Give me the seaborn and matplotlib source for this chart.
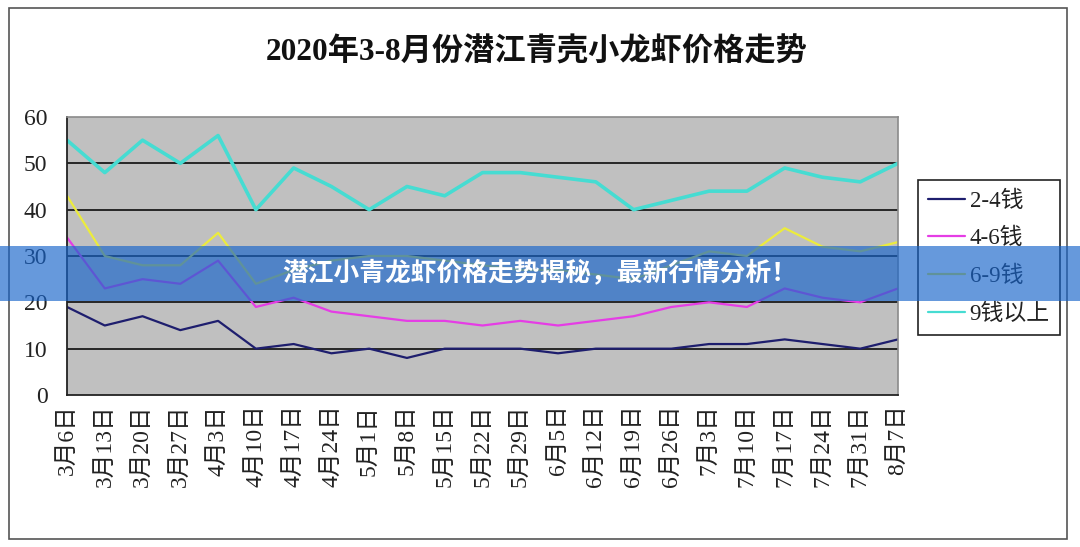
import matplotlib
matplotlib.use("Agg")
import matplotlib.pyplot as plt
import seaborn as sns
import pandas as pd
from matplotlib.patches import Rectangle

# ---- data ----
dates = ["3月6日", "3月13日", "3月20日", "3月27日", "4月3日", "4月10日", "4月17日",
         "4月24日", "5月1日", "5月8日", "5月15日", "5月22日", "5月29日", "6月5日",
         "6月12日", "6月19日", "6月26日", "7月3日", "7月10日", "7月17日", "7月24日",
         "7月31日", "8月7日"]
series_names = ["2-4钱", "4-6钱", "6-9钱", "9钱以上"]
s_2_4 = [19, 15, 17, 14, 16, 10, 11, 9, 10, 8, 10, 10, 10, 9, 10, 10, 10, 11, 11, 12, 11, 10, 12]
s_4_6 = [34, 23, 25, 24, 29, 19, 21, 18, 17, 16, 16, 15, 16, 15, 16, 17, 19, 20, 19, 23, 21, 20, 23]
s_6_9 = [43, 30, 28, 28, 35, 24, 27, 29, 30, 30, 29, 28, 27, 27, 26, 25, 28, 31, 30, 36, 32, 31, 33]
s_9up = [55, 48, 55, 50, 56, 40, 49, 45, 40, 45, 43, 48, 48, 47, 46, 40, 42, 44, 44, 49, 47, 46, 50]
yticks = [0, 10, 20, 30, 40, 50, 60]
title = "2020年3-8月份潜江青壳小龙虾价格走势"
banner = "潜江小青龙虾价格走势揭秘，最新行情分析！"

colors = ["#1E1E6E", "#E53DE5", "#ECEC3C", "#46DCD2"]
widths = [1.6, 1.6, 1.6, 2.6]

sns.set_style("white")
plt.rcParams["font.family"] = ["Liberation Serif", "Noto Sans CJK SC", "DejaVu Sans"]

rows = []
for name, vals in zip(series_names, [s_2_4, s_4_6, s_6_9, s_9up]):
    for i, v in enumerate(vals):
        rows.append({"pos": i, "price": v, "series": name})
df = pd.DataFrame(rows)

fig = plt.figure(figsize=(10.8, 5.47), dpi=100)
fig.patch.set_facecolor("white")
ax = fig.add_axes([67 / 1080, 1 - 395 / 547, (898 - 67) / 1080, (395 - 117) / 547])
ax.set_facecolor("#C0C0C0")

sns.lineplot(data=df, x="pos", y="price", hue="series", hue_order=series_names,
             palette=colors, ax=ax, legend=True, estimator=None, sort=False)
for line, w in zip(ax.get_lines(), widths):
    line.set_linewidth(w)
handles, labels = ax.get_legend_handles_labels()
ax.get_legend().remove()
for h in handles:
    h.set_linewidth(1.6)

ax.set_xlim(0, len(dates) - 1)
ax.set_ylim(0, 60)
ax.set_yticks(yticks)
ax.set_yticklabels([str(t) for t in yticks], fontsize=17, family="Liberation Serif", color="#222222")
ax.set_xticks(range(len(dates)))
ax.set_xticklabels(dates, rotation=90, fontsize=17,
                   family=["Liberation Serif", "Noto Sans CJK SC"], color="#222222")
ax.tick_params(axis="x", direction="in", length=6, width=1, color="#222222", pad=7)
ax.tick_params(axis="y", direction="out", length=5, width=1, color="#222222", pad=9)
ax.set_xlabel("")
ax.set_ylabel("")
for y in yticks[1:-1]:
    ax.axhline(y, color="#1A1A1A", lw=1.3, zorder=1)
ax.grid(False)
for s in ["left", "bottom"]:
    ax.spines[s].set_color("#222222")
    ax.spines[s].set_linewidth(1.3)
for s in ["top", "right"]:
    ax.spines[s].set_color("#8A8A8A")
    ax.spines[s].set_linewidth(1.2)

fig.text(0.497, 1 - 52 / 547, title, ha="center", va="center", fontsize=22.5,
         family=["Liberation Serif", "Noto Sans CJK SC"], fontweight="bold", color="#111111")

leg = fig.legend(handles, labels, loc="upper left",
                 bbox_to_anchor=(918 / 1080, 1 - 180 / 547), borderaxespad=0,
                 prop={"family": ["Liberation Serif", "Noto Sans CJK SC"], "size": 16.5},
                 frameon=True, fancybox=False, edgecolor="#222222", framealpha=1,
                 handlelength=1.6, handletextpad=0.2, labelspacing=0.72, borderpad=0.45)
leg.get_frame().set_linewidth(1.2)
for t in leg.get_texts():
    t.set_color("#222222")

# chart-area border
fig.add_artist(Rectangle((9 / 1080, 1 - 539 / 547), (1067 - 9) / 1080, (539 - 8) / 547,
                         transform=fig.transFigure, fill=False, edgecolor="#555555", lw=1.2, zorder=3))

# overlay banner
fig.add_artist(Rectangle((0, 1 - 301 / 547), 1, 55 / 547, transform=fig.transFigure,
                         facecolor="#1764CB", alpha=0.66, edgecolor="none", zorder=10))
fig.text(0.5, 1 - 273 / 547, banner, ha="center", va="center", fontsize=18.5,
         family=["Noto Sans CJK SC"], fontweight="bold", color="white", zorder=11)

fig.savefig("out.png", dpi=100, facecolor="white")
